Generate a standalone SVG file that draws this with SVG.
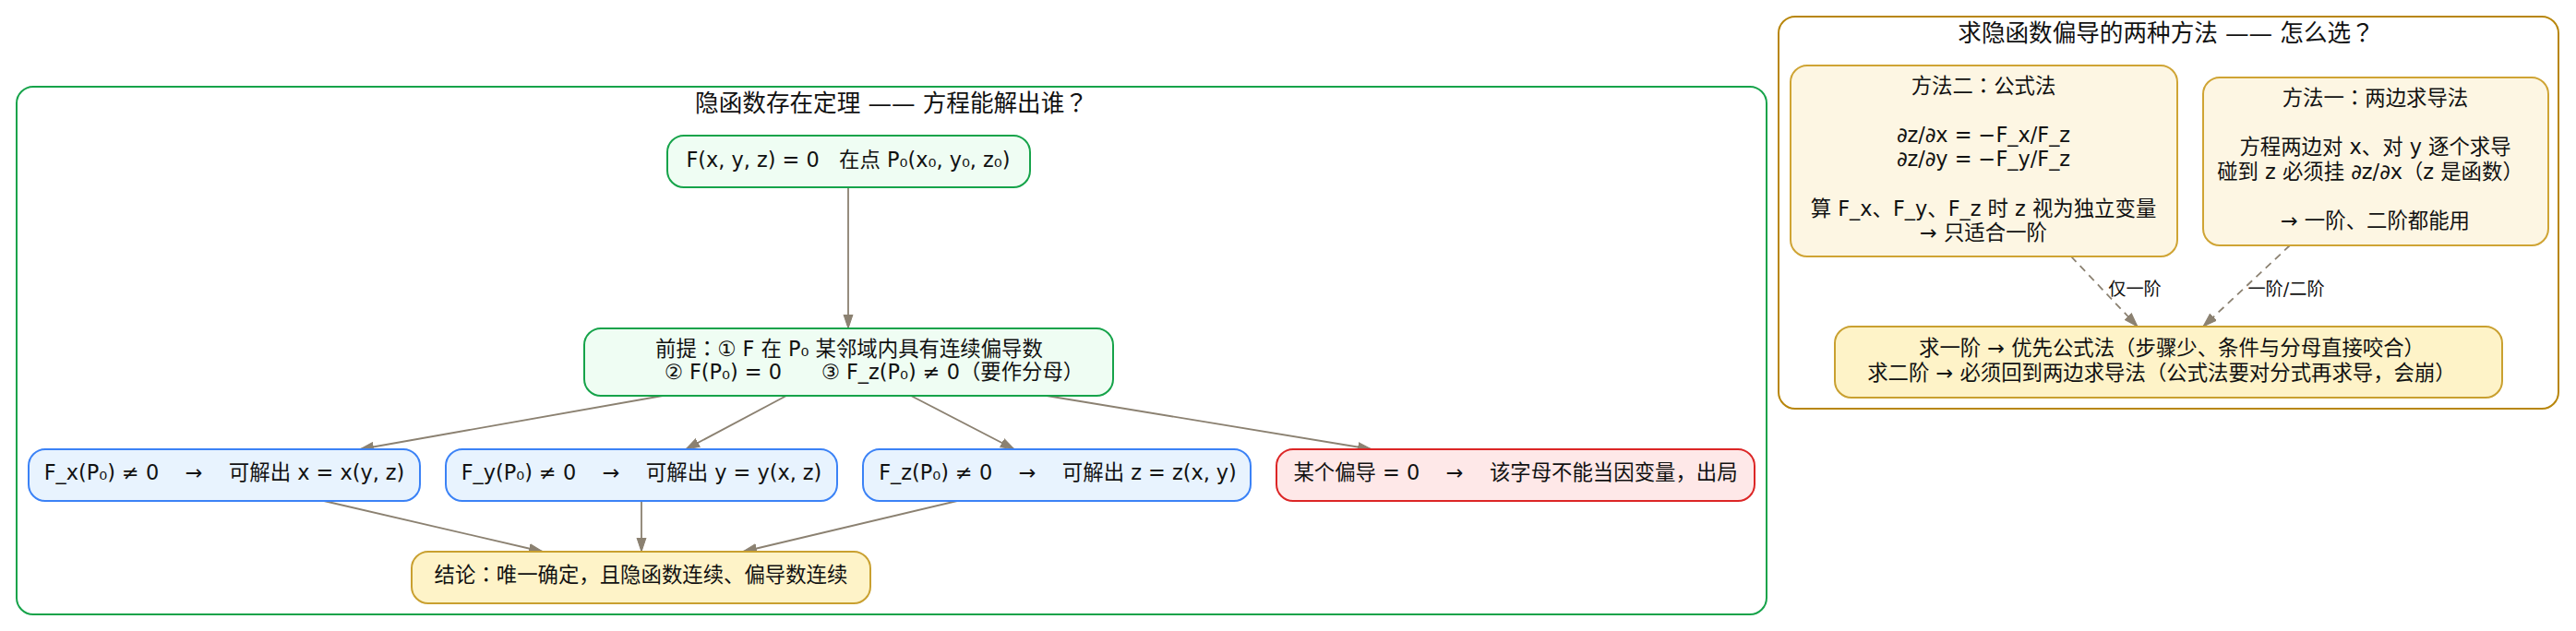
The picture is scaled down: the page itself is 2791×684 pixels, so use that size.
<svg xmlns="http://www.w3.org/2000/svg" width="2791" height="684" viewBox="0 0 2791 684">
<style>
text{font-family:'DejaVu Sans','Noto Sans CJK SC',sans-serif;font-size:22.4px;fill:#111;text-anchor:middle}
.p{font-family:'Noto Sans CJK KR','Noto Sans CJK SC',sans-serif}
.title{font-size:25.6px}
.elabel{font-size:19.2px}
.cluster{fill:#fff;stroke-width:2}
.node{stroke-width:2}
.green{fill:#effdf3;stroke:#16a34a}
.blue{fill:#e8f3fe;stroke:#3b82f6}
.red{fill:#fee8e8;stroke:#dc2626}
.yellow{fill:#fef3c8;stroke:#c9a030}
.cream{fill:#fdf6e3;stroke:#cfa434}
.edge{fill:none;stroke:#8b8171;stroke-width:1.8}
.dashed{stroke-dasharray:8,6}
</style>
<defs>
<marker id="arrow" markerUnits="userSpaceOnUse" markerWidth="16" markerHeight="12" viewBox="0 0 16 12" refX="15" refY="6" orient="auto">
<path d="M0,1 L15,6 L0,11 Z" fill="#8b8171" stroke="#8b8171" stroke-width="1"/>
</marker>
</defs>
<rect width="2791" height="684" fill="#fff"/>

<g id="cluster-left">
<rect class="cluster" x="18" y="94" width="1896" height="572" rx="18" stroke="#16a34a"/>
<text class="title" x="966" y="121">隐函数存在定理 —— 方程能解出谁<tspan class="p">？</tspan></text>
</g>
<g id="cluster-right">
<rect class="cluster" x="1927" y="18" width="845" height="425" rx="18" stroke="#b8860b"/>
<text class="title" x="2347" y="45">求隐函数偏导的两种方法 —— 怎么选<tspan class="p">？</tspan></text>
</g>

<g id="connectors">
<path class="edge" d="M919,203 L919,356" marker-end="url(#arrow)"/>
<path class="edge" d="M718,429 L390,487" marker-end="url(#arrow)"/>
<path class="edge" d="M852,429 L743,487" marker-end="url(#arrow)"/>
<path class="edge" d="M987,429 L1099,487" marker-end="url(#arrow)"/>
<path class="edge" d="M1134,429 L1486,487" marker-end="url(#arrow)"/>
<path class="edge" d="M351,543 L588,598" marker-end="url(#arrow)"/>
<path class="edge" d="M695,543 L695,598" marker-end="url(#arrow)"/>
<path class="edge" d="M1037,543 L805,598" marker-end="url(#arrow)"/>
<path class="edge dashed" d="M2244,278 L2316,354" marker-end="url(#arrow)"/>
<path class="edge dashed" d="M2481,266 L2387,354" marker-end="url(#arrow)"/>
<text class="elabel" x="2313" y="320">仅一阶</text>
<text class="elabel" x="2477" y="320">一阶/二阶</text>
</g>

<g id="node-start">
<rect class="node green" x="723" y="147" width="393" height="56" rx="18"/>
<text x="919" y="180.5">F(x, y, z) = 0 &#160; 在点 P₀(x₀, y₀, z₀)</text>
</g>
<g id="node-premise">
<rect class="node green" x="633" y="356" width="573" height="73" rx="18"/>
<text x="920" y="385.7">前提<tspan class="p">：</tspan>① F 在 P₀ 某邻域内具有连续偏导数</text>
<text x="947" y="410.7">② F(P₀) = 0 &#160;&#160;&#160;&#160; ③ F_z(P₀) ≠ 0（要作分母）</text>
</g>
<g id="node-fx">
<rect class="node blue" x="31" y="487" width="424" height="56" rx="18"/>
<text x="243" y="520">F_x(P₀) ≠ 0 &#160;&#160; → &#160;&#160; 可解出 x = x(y, z)</text>
</g>
<g id="node-fy">
<rect class="node blue" x="483" y="487" width="424" height="56" rx="18"/>
<text x="695" y="520">F_y(P₀) ≠ 0 &#160;&#160; → &#160;&#160; 可解出 y = y(x, z)</text>
</g>
<g id="node-fz">
<rect class="node blue" x="935" y="487" width="420" height="56" rx="18"/>
<text x="1146" y="520">F_z(P₀) ≠ 0 &#160;&#160; → &#160;&#160; 可解出 z = z(x, y)</text>
</g>
<g id="node-zero">
<rect class="node red" x="1383" y="487" width="518" height="56" rx="18"/>
<text x="1642" y="520">某个偏导 = 0 &#160;&#160; → &#160;&#160; 该字母不能当因变量，出局</text>
</g>
<g id="node-conclusion">
<rect class="node yellow" x="446" y="598" width="497" height="56" rx="18"/>
<text x="694.5" y="631">结论<tspan class="p">：</tspan>唯一确定，且隐函数连续、偏导数连续</text>
</g>

<g id="node-method2">
<rect class="node cream" x="1940" y="71" width="419" height="207" rx="18"/>
<text x="2149" y="100.5">方法二<tspan class="p">：</tspan>公式法</text>
<text x="2149" y="153.7">∂z/∂x = −F_x/F_z</text>
<text x="2149" y="180.3">∂z/∂y = −F_y/F_z</text>
<text x="2149" y="233.5">算 F_x、F_y、F_z 时 z 视为独立变量</text>
<text x="2149" y="260">→ 只适合一阶</text>
</g>
<g id="node-method1">
<rect class="node cream" x="2387" y="84" width="374" height="182" rx="18"/>
<text x="2573.5" y="114">方法一<tspan class="p">：</tspan>两边求导法</text>
<text x="2573.5" y="167.2">方程两边对 x、对 y 逐个求导</text>
<text x="2568" y="193.8">碰到 z 必须挂 ∂z/∂x（z 是函数）</text>
<text x="2573.5" y="247">→ 一阶、二阶都能用</text>
</g>
<g id="node-choice">
<rect class="node yellow" x="1988" y="354" width="723" height="77" rx="18"/>
<text x="2353" y="385">求一阶 → 优先公式法（步骤少、条件与分母直接咬合）</text>
<text x="2342" y="411.5">求二阶 → 必须回到两边求导法（公式法要对分式再求导，会崩）</text>
</g>
</svg>
